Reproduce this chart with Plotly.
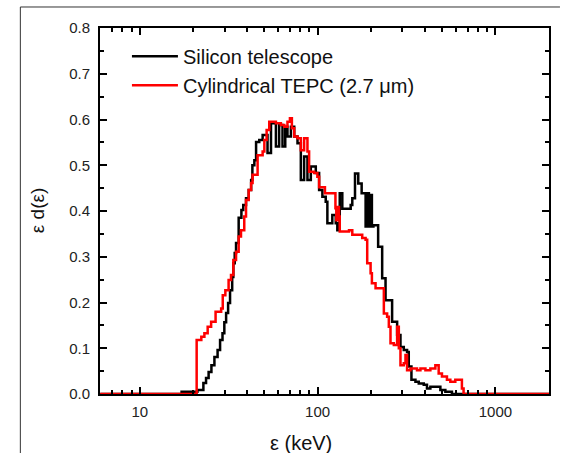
import plotly.graph_objects as go

# Lineal energy spectra, step histograms: bin lower edges (keV) and epsilon*d(epsilon)
si_energy = [6, 17.2, 21.1, 22.8, 23.6, 24.4, 25.3, 26.3, 27.4, 28.3, 29.2, 29.9, 30.6,
             31.4, 32.2, 33.1, 33.6, 34.2, 34.8, 36.0, 37.3, 38.2, 39.6, 41.0, 42.3, 43.0,
             44.1, 45.1, 47.0, 49.1, 52.3, 54.7, 58.3, 60.8, 63.5, 65.8, 67.7, 70.8, 73.9,
             77.1, 80.5, 84.0, 87.7, 91.6, 97.7, 102, 106.4, 111.1, 113.5, 121, 126.5, 129.1,
             133.2, 137.7, 153.5, 156.7, 162.3, 169.3, 176.9, 186.2, 190, 194.3, 198, 202,
             206, 219, 230.7, 241, 262.4, 280, 292.4, 305.2, 318.5, 325.5, 337, 354.9, 370.4,
             395.2, 412.1, 430.6, 459.3, 490, 522.7, 569.2, 2000]
si_value = [0, 0.005, 0.009, 0.024, 0.035, 0.048, 0.063, 0.081, 0.096, 0.118, 0.133, 0.157, 0.177,
            0.199, 0.227, 0.256, 0.286, 0.308, 0.330, 0.385, 0.402, 0.413, 0.428, 0.446, 0.468, 0.500,
            0.511, 0.551, 0.555, 0.566, 0.527, 0.592, 0.541, 0.588, 0.541, 0.584, 0.563, 0.584, 0.563,
            0.548, 0.468, 0.519, 0.468, 0.497, 0.483, 0.446, 0.431, 0.420, 0.373, 0.391, 0.373, 0.358,
            0.439, 0.405, 0.413, 0.428, 0.482, 0.460, 0.439, 0.366, 0.439, 0.366, 0.435, 0.366,
            0.369, 0.322, 0.253, 0.205, 0.158, 0.129, 0.103, 0.096, 0.092, 0.060, 0.031, 0.027, 0.023,
            0.020, 0.012, 0.016, 0.016, 0.009, 0.005, 0.0, 0.0]

tepc_energy = [6, 20.9, 22.2, 23.1, 24.1, 25.2, 26.7, 28.7, 29.3, 30.3, 31.6, 32.6, 33.6, 34.8,
               36.0, 37.1, 38.7, 39.6, 41.0, 42.3, 43.1, 46.0, 49.1, 50.2, 51.7, 53.5, 58.3, 62.2,
               65.0, 67.7, 69.9, 71.7, 73.9, 77.1, 80.5, 84.0, 87.7, 89.6, 95.6, 99.7, 102, 110,
               126, 127.4, 129.1, 131.9, 133.2, 150.2, 156.7, 178.2, 186.2, 190.1, 198.6, 202,
               211.8, 235.8, 246, 251.5, 257, 268.3, 280, 286.2, 292.4, 305.2, 312, 318.5, 332.7,
               362.2, 378.6, 403.9, 430.6, 459.3, 479.4, 500.3, 533.6, 557.5, 594.7, 647.7, 661.9,
               2000]
tepc_value = [0, 0.118, 0.125, 0.133, 0.147, 0.158, 0.180, 0.187, 0.216, 0.227, 0.249, 0.260, 0.293, 0.311,
              0.344, 0.358, 0.388, 0.424, 0.446, 0.461, 0.479, 0.522, 0.530, 0.555, 0.577, 0.595, 0.592, 0.588,
              0.584, 0.595, 0.603, 0.581, 0.563, 0.559, 0.533, 0.559, 0.530, 0.486, 0.483, 0.475, 0.452, 0.439,
              0.406, 0.380, 0.409, 0.388, 0.355, 0.358, 0.348, 0.341, 0.337, 0.286, 0.264, 0.242,
              0.231, 0.176, 0.169, 0.147, 0.111, 0.107, 0.147, 0.100, 0.063, 0.067, 0.085, 0.052, 0.056,
              0.052, 0.056, 0.052, 0.056, 0.063, 0.045, 0.038, 0.031, 0.027, 0.031, 0.012, 0.0,
              0.0]

x_major = [10, 100, 1000]
x_minor = [7, 8, 9, 20, 30, 40, 50, 60, 70, 80, 90, 200, 300, 400, 500, 600, 700, 800, 900]
y_major = [0.0, 0.1, 0.2, 0.3, 0.4, 0.5, 0.6, 0.7, 0.8]
y_minor = [0.05, 0.15, 0.25, 0.35, 0.45, 0.55, 0.65, 0.75]

FONT = "Liberation Sans, Arial, sans-serif"

fig = go.Figure()
fig.add_trace(go.Scatter(x=si_energy, y=si_value, mode="lines", line_shape="hv",
                         line=dict(color="black", width=2.5), name="Silicon telescope"))
fig.add_trace(go.Scatter(x=tepc_energy, y=tepc_value, mode="lines", line_shape="hv",
                         line=dict(color="#ff0000", width=2.5), name="Cylindrical TEPC (2.7 μm)"))

axis_common = dict(showline=True, linecolor="black", linewidth=2, mirror="allticks",
                   ticks="inside", ticklen=7, tickwidth=1.5, tickcolor="black",
                   showgrid=False, zeroline=False,
                   tickfont=dict(family=FONT, size=15, color="#222222"))

fig.update_xaxes(type="log", range=[0.7767, 3.301], tickmode="array", tickvals=x_major,
                 ticktext=[str(v) for v in x_major], ticklabelstandoff=3,
                 minor=dict(tickmode="array", tickvals=x_minor, ticks="inside", ticklen=4,
                            tickwidth=1.5, tickcolor="black", showgrid=False),
                 **axis_common)
fig.update_yaxes(range=[0, 0.8], tickmode="array", tickvals=y_major,
                 ticktext=[f"{v:.1f}" for v in y_major], ticklabelstandoff=5,
                 minor=dict(tickmode="array", tickvals=y_minor, ticks="inside", ticklen=4,
                            tickwidth=1.5, tickcolor="black", showgrid=False),
                 **axis_common)

fig.update_layout(
    width=563, height=453,
    margin=dict(l=100, r=12, t=28, b=59),
    paper_bgcolor="white", plot_bgcolor="white",
    font=dict(family=FONT, color="black"),
    showlegend=True,
    legend=dict(x=0.06, y=0.976, xanchor="left", yanchor="top",
                bgcolor="rgba(0,0,0,0)", borderwidth=0,
                font=dict(family=FONT, size=20, color="#111111"),
                itemwidth=46, tracegroupgap=0),
    annotations=[
        dict(text="ε (keV)", x=0.448, y=-0.133, xref="paper", yref="paper",
             xanchor="center", yanchor="middle", showarrow=False,
             font=dict(family=FONT, size=20, color="#111111")),
        dict(text="ε d(ε)", x=-0.14, y=0.5, xref="paper", yref="paper",
             xanchor="center", yanchor="middle", showarrow=False, textangle=-90,
             font=dict(family=FONT, size=19, color="#111111")),
    ],
    shapes=[
        dict(type="line", xref="paper", yref="paper", x0=-0.1774, x1=1.0244, y0=1.0574, y1=1.0574,
             line=dict(color="#333333", width=1)),
        dict(type="line", xref="paper", yref="paper", x0=-0.1774, x1=-0.1774, y0=1.0574, y1=-0.17,
             line=dict(color="#333333", width=1)),
    ],
)

fig.write_html("out.html")
